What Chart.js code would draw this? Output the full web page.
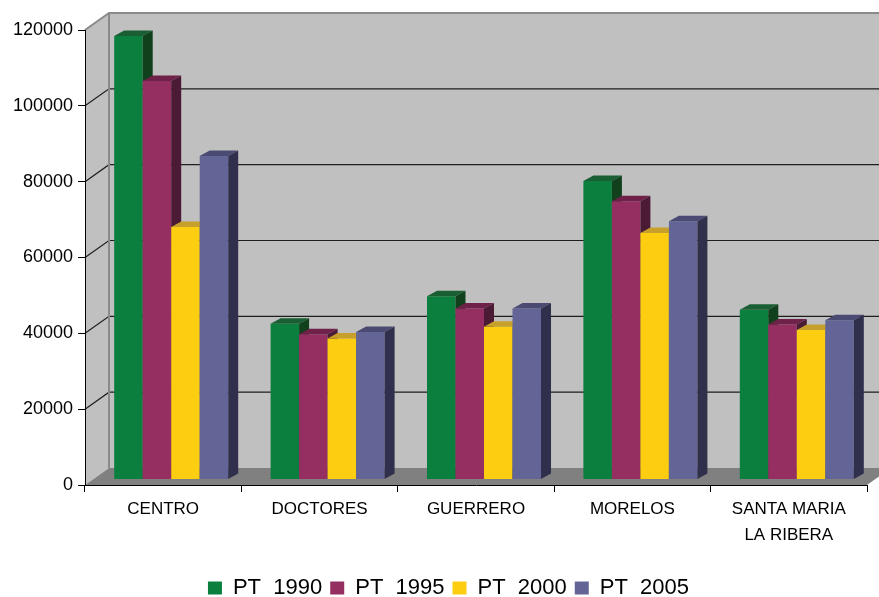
<!DOCTYPE html>
<html>
<head>
<meta charset="utf-8">
<title>PT por colonia</title>
<script src="https://cdn.jsdelivr.net/npm/chart.js@4.4.0/dist/chart.umd.min.js"></script>
<style>
	body { margin: 0; background: #fff; }
</style>
</head>
<body>
<canvas id="grafico" width="879" height="597"></canvas>
<script>
// datos
var colonias = ['CENTRO', 'DOCTORES', 'GUERRERO', 'MORELOS', ['SANTA MARIA', 'LA RIBERA']];
var pt1990 = [117000, 41100, 48300, 78700, 44800];
var pt1995 = [105100, 38300, 45100, 73400, 40900];
var pt2000 = [66600, 37200, 40300, 65000, 39400];
var pt2005 = [85300, 38900, 45100, 68100, 42000];
var marcasEje = [0, 20000, 40000, 60000, 80000, 100000, 120000];

var fuente = '"Liberation Sans", Arial, Helvetica, sans-serif';

// efecto 3d
var fondo = { dx: 24, dy: -17 };
var barra = { dx: 8, dy: -5.5, lado: 10, alto: -5.5 };
var tonos = [
	{ frente: '#0a7f3e', arriba: '#1a5f33', lado: '#10401c' },
	{ frente: '#952f62', arriba: '#6e2149', lado: '#4b1a35' },
	{ frente: '#fccd10', arriba: '#c7a02b', lado: '#8c7114' },
	{ frente: '#646597', arriba: '#4a4a73', lado: '#30304d' }
];

function poligono(ctx, puntos, color) {
	ctx.fillStyle = color;
	ctx.beginPath();
	ctx.moveTo(puntos[0][0], puntos[0][1]);
	for (var k = 1; k < puntos.length; k++) {
		ctx.lineTo(puntos[k][0], puntos[k][1]);
	}
	ctx.closePath();
	ctx.fill();
}

var paredes = {
	id: 'paredes',
	afterLayout: function(chart) {
		// la leyenda va un poco corrida a la derecha
		if (chart.legend) {
			chart.legend.left += 30;
		}
	},
	beforeDraw: function(chart) {
		var ctx = chart.ctx;
		var a = chart.chartArea;
		var ejeY = chart.scales.y;
		var dx = fondo.dx, dy = fondo.dy;
		var fin = chart.width + 5;

		ctx.save();
		// pared del fondo
		poligono(ctx, [[a.left + dx, a.top + dy], [fin, a.top + dy], [fin, a.bottom + dy], [a.left + dx, a.bottom + dy]], '#c0c0c0');
		// pared izquierda
		poligono(ctx, [[a.left, a.top], [a.left + dx, a.top + dy], [a.left + dx, a.bottom + dy], [a.left, a.bottom]], '#c0c0c0');
		// piso
		poligono(ctx, [[a.left, a.bottom], [a.right, a.bottom], [a.right + dx, a.bottom + dy], [a.left + dx, a.bottom + dy]], '#808080');

		// lineas de division
		ctx.strokeStyle = '#1e1e1e';
		ctx.lineWidth = 1.2;
		for (var i = 1; i < marcasEje.length - 1; i++) {
			var py = ejeY.getPixelForValue(marcasEje[i]);
			ctx.beginPath();
			ctx.moveTo(a.left, py);
			ctx.lineTo(a.left + dx, py + dy);
			ctx.lineTo(fin, py + dy);
			ctx.stroke();
		}

		// bordes grises
		ctx.strokeStyle = '#8a8a8a';
		ctx.lineWidth = 2;
		ctx.beginPath();
		ctx.moveTo(a.left, a.top);
		ctx.lineTo(a.left + dx, a.top + dy);
		ctx.lineTo(fin, a.top + dy);
		ctx.moveTo(a.left + dx, a.top + dy);
		ctx.lineTo(a.left + dx, a.bottom + dy);
		ctx.stroke();
		ctx.restore();
	}
};

var barras3d = {
	id: 'barras3d',
	beforeDatasetsDraw: function(chart) {
		var ctx = chart.ctx;
		ctx.save();
		ctx.translate(barra.dx, barra.dy);
		for (var j = 0; j < colonias.length; j++) {
			for (var i = 0; i < chart.data.datasets.length; i++) {
				var el = chart.getDatasetMeta(i).data[j];
				var c = tonos[i];
				var izq = el.x - el.width / 2;
				var der = el.x + el.width / 2;
				el.draw(ctx);
				// cara de arriba
				poligono(ctx, [[izq, el.y], [der, el.y], [der + barra.lado, el.y + barra.alto], [izq + barra.lado, el.y + barra.alto]], c.arriba);
				// costado
				poligono(ctx, [[der, el.y], [der + barra.lado, el.y + barra.alto], [der + barra.lado, el.base + barra.alto], [der, el.base]], c.lado);
			}
		}
		ctx.restore();
		return false;
	}
};

var chartdata = {
	labels: colonias,
	datasets: [
		{ label: 'PT  1990', data: pt1990, backgroundColor: tonos[0].frente },
		{ label: 'PT  1995', data: pt1995, backgroundColor: tonos[1].frente },
		{ label: 'PT  2000', data: pt2000, backgroundColor: tonos[2].frente },
		{ label: 'PT  2005', data: pt2005, backgroundColor: tonos[3].frente }
	]
};

var ctx = document.getElementById('grafico');

var barGraph = new Chart(ctx, {
	type: 'bar',
	data: chartdata,
	plugins: [paredes, barras3d],
	options: {
		responsive: false,
		animation: false,
		layout: { padding: { left: 0, right: 12, top: 30, bottom: -12 } },
		datasets: {
			bar: { categoryPercentage: 0.729, barPercentage: 1, borderWidth: 0 }
		},
		scales: {
			x: {
				grid: { drawOnChartArea: false, tickLength: 7, color: '#000', offset: true },
				border: { color: '#000', width: 1 },
				ticks: { color: '#000', padding: 4, font: { family: fuente, size: 17, lineHeight: 1.55 } },
				afterFit: function(scale) { scale.height = 84; }
			},
			y: {
				min: 0,
				max: 120000,
				afterBuildTicks: function(scale) {
					scale.ticks = marcasEje.map(function(v) { return { value: v }; });
				},
				grid: { drawOnChartArea: false, tickLength: 7, color: '#000' },
				border: { color: '#000', width: 1 },
				ticks: {
					color: '#000',
					padding: 5,
					font: { family: fuente, size: 18 },
					callback: function(v) { return String(v); }
				},
				afterFit: function(scale) { scale.width = 85; }
			}
		},
		plugins: {
			tooltip: { enabled: false },
			legend: {
				position: 'bottom',
				labels: {
					boxWidth: 14,
					boxHeight: 13,
					padding: 8,
					color: '#000',
					font: { family: fuente, size: 22 }
				}
			}
		}
	}
});
</script>
</body>
</html>
